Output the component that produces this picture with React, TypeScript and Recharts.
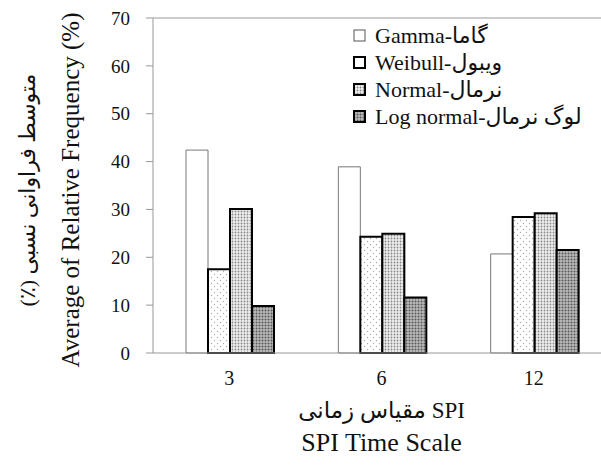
import React from 'react';
import { BarChart, Bar, XAxis, YAxis, ReferenceLine } from 'recharts';

const categories = ['3', '6', '12'];
const gamma = [42.4, 38.9, 20.7];
const weibull = [17.5, 24.3, 28.4];
const normal = [30.1, 24.9, 29.2];
const lognormal = [9.8, 11.6, 21.5];
const yTicks = [0, 10, 20, 30, 40, 50, 60, 70];

const data = categories.map((c, i) => ({
  scale: c,
  gamma: gamma[i],
  weibull: weibull[i],
  normal: normal[i],
  lognormal: lognormal[i],
}));

const FONT = "'Liberation Serif', 'Times New Roman', Tinos, 'DejaVu Serif', serif, 'DejaVu Sans'";

const series = [
  { key: 'gamma', label: 'Gamma-گاما', fill: '#fff', stroke: '#777', sw: 1 },
  { key: 'weibull', label: 'Weibull-ویبول', fill: 'url(#pWeib)', stroke: '#000', sw: 2 },
  { key: 'normal', label: 'Normal-نرمال', fill: 'url(#pNorm)', stroke: '#000', sw: 2 },
  { key: 'lognormal', label: 'Log normal-لوگ نرمال', fill: 'url(#pLogn)', stroke: '#000', sw: 2 },
];

const LegendBox = () => (
  <div style={{ position: 'absolute', left: 353, top: 22, fontFamily: FONT, fontSize: 22, color: '#111', lineHeight: 1 }}>
    {series.map(s => (
      <div key={s.key} style={{ display: 'flex', alignItems: 'center', height: 27 }}>
        <svg width={13} height={13} style={{ marginRight: 9 }}>
          <rect x={1} y={1} width={11} height={11} fill={s.key === 'weibull' ? '#fff' : s.fill} stroke={s.key === 'gamma' ? '#555' : '#000'} strokeWidth={s.key === 'gamma' ? 1 : 2} />
        </svg>
        <span>{s.label}</span>
      </div>
    ))}
  </div>
);

const YTitle = () => {
  const cy = 190;
  return (
    <g fontFamily={FONT} fill="#111">
      <text x={70} y={cy} transform={`rotate(-90 70 ${cy})`} textAnchor="middle" dominantBaseline="central" fontSize={25}>
        Average of Relative Frequency (%)
      </text>
      <text x={27} y={cy} transform={`rotate(-90 27 ${cy})`} textAnchor="middle" dominantBaseline="central" fontSize={22} direction="rtl">
        متوسط فراوانی نسبی (٪)
      </text>
    </g>
  );
};

const XTitle = (props: any) => {
  const vb = props.viewBox || {};
  const cx = vb.x + vb.width / 2;
  return (
    <g fontFamily={FONT} fill="#111" textAnchor="middle">
      <text x={cx} y={410} dominantBaseline="central" fontSize={23}>مقیاس زمانی SPI</text>
      <text x={cx} y={442} dominantBaseline="central" fontSize={26}>SPI Time Scale</text>
    </g>
  );
};

export default function App() {
  return (
    <div style={{ position: 'absolute', left: 0, top: 0, width: 601, height: 468, overflow: 'hidden', background: '#fff' }}>
      <BarChart
        width={640}
        height={468}
        data={data}
        margin={{ top: 18, right: 30, left: 93, bottom: 85 }}
        barCategoryGap={33}
        barGap={0}
      >
        <defs>
          <pattern id="pWeib" patternUnits="userSpaceOnUse" width={6} height={6}>
            <rect width={6} height={6} fill="#fff" />
            <circle cx={1.5} cy={1.5} r={0.7} fill="#aaa" />
            <circle cx={4.5} cy={4.5} r={0.7} fill="#aaa" />
          </pattern>
          <pattern id="pNorm" patternUnits="userSpaceOnUse" width={3} height={3}>
            <rect width={3} height={3} fill="#eee" />
            <circle cx={1.5} cy={1.5} r={0.9} fill="#888" />
          </pattern>
          <pattern id="pLogn" patternUnits="userSpaceOnUse" width={3} height={3}>
            <rect width={3} height={3} fill="#bbb" />
            <circle cx={1.5} cy={1.5} r={1} fill="#555" />
          </pattern>
        </defs>
        <XAxis
          dataKey="scale"
          height={30}
          axisLine={{ stroke: '#999' }}
          tickLine={false}
          tickMargin={12}
          tick={{ fill: '#111', fontSize: 20, fontFamily: FONT }}
          label={{ content: XTitle }}
        />
        <YAxis
          width={60}
          domain={[0, 70]}
          ticks={yTicks}
          interval={0}
          axisLine={{ stroke: '#999' }}
          tickLine={{ stroke: '#999' }}
          tickSize={7}
          tickMargin={16}
          tick={{ fill: '#111', fontSize: 19, fontFamily: FONT }}
          label={{ content: YTitle }}
        />
        <ReferenceLine y={70} stroke="#999" />
        {series.map(s => (
          <Bar
            key={s.key}
            dataKey={s.key}
            name={s.label}
            fill={s.fill}
            stroke={s.stroke}
            strokeWidth={s.sw}
            isAnimationActive={false}
          />
        ))}
      </BarChart>
      <LegendBox />
    </div>
  );
}
